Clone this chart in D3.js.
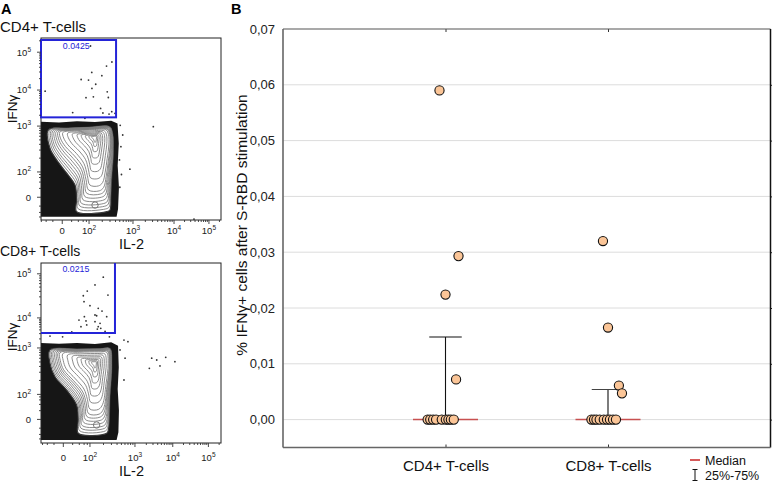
<!DOCTYPE html>
<html><head><meta charset="utf-8">
<script src="https://cdn.jsdelivr.net/npm/d3@7"></script>
<style>body{margin:0;background:#fff}text{font-family:"Liberation Sans",Arial,sans-serif}</style>
</head><body>
<svg id="chart" width="772" height="482"></svg>
<script>
// ================= DATA =================
// ---- Panel B ----
const categories = ["CD4+ T-cells", "CD8+ T-cells"];
const cd4Values = [0, 0, 0, 0, 0, 0, 0, 0, 0, 0.0590, 0.0293, 0.0224, 0.0072];
const cd4Jitter = [-0.110, -0.094, -0.076, -0.058, -0.023, 0.002, 0.018, 0.033, 0.051, -0.037, 0.080, 0.000, 0.065];
const cd8Values = [0, 0, 0, 0, 0, 0, 0, 0, 0, 0.0320, 0.0165, 0.0061, 0.0047];
const cd8Jitter = [-0.102, -0.086, -0.071, -0.051, -0.026, -0.006, 0.012, 0.031, 0.049, -0.031, 0.000, 0.067, 0.086];
const medians = [0, 0];
const q25 = [0, 0];
const q75 = [0.0148, 0.0054];
const yTicksB = [0, 0.01, 0.02, 0.03, 0.04, 0.05, 0.06, 0.07];
const yTickLabelsB = ["0,00", "0,01", "0,02", "0,03", "0,04", "0,05", "0,06", "0,07"];
const yTitleB = "% IFNγ+ cells after S-RBD stimulation";
const legendLabels = ["Median", "25%-75%"];

// ---- Panel A (flow plots, channel units 0-1000) ----
const flowTickExp = ["0", "2", "3", "4", "5"];
const cd4XTickCh = [118, 267, 511, 739, 933];
const cd4YTickCh = [125, 264, 516, 714, 922];
const cd8XTickCh = [124, 272, 522, 732, 930];
const cd8YTickCh = [131, 270, 528, 695, 940];
const gateFreqs = ["0.0425", "0.0215"];
const cd4Gate = [0, 417, 564, 989];   // x1, x2, y1, y2
const cd8Gate = [0, 411, 611, 1000];
const cd4GateDots = [[275,956],[394,868],[364,846],[282,811],[223,772],[264,769],[338,793],[304,746],[23,708],[250,672],[291,677],[374,673],[368,704],[283,723],[176,590],[331,613],[344,588],[393,595],[411,586],[244,559],[378,582]];
const cd4OtherDots = [[624,513],[494,279],[454,467],[444,403],[436,330],[850,5],[440,520],[447,250],[438,180]];
const cd8GateDots = [[346,921],[300,878],[257,844],[235,818],[372,822],[239,785],[272,763],[318,748],[339,733],[300,711],[241,702],[365,702],[309,707],[211,683],[250,678],[300,674],[328,665],[222,646],[254,656],[318,646],[332,637],[171,617],[313,633],[356,620]];
const cd8OtherDots = [[615,471],[643,461],[661,428],[693,476],[744,452],[602,415],[461,572],[439,517],[467,471],[461,350],[483,563],[50,594],[120,590],[380,590]];
const cd4Black = [[0,18],[0,540],[100,536],[200,542],[300,538],[390,545],[425,530],[432,420],[426,300],[433,180],[428,60],[420,18]];
const cd8Black = [[0,17],[0,555],[100,552],[200,556],[300,550],[390,560],[428,540],[432,420],[426,300],[433,180],[430,60],[420,17]];
// outermost contour, an intermediate contour and the density peak
const cd4Envelope = [[41,495],[150,505],[270,510],[383,513],[398,476],[402,366],[393,238],[388,128],[383,55],[365,46],[198,46],[198,110],[189,192],[143,257],[87,330],[50,394]];
const cd4Mid = [[110,482],[180,492],[270,497],[365,498],[380,470],[382,410],[372,330],[360,250],[345,190],[320,170],[270,175],[255,230],[235,300],[190,360],[140,410],[115,450]];
const cd8Envelope = [[50,517],[200,522],[330,524],[383,526],[393,443],[383,257],[374,72],[365,54],[207,54],[207,128],[198,211],[143,294],[78,368],[50,443]];
const cd8Mid = [[110,500],[210,508],[320,510],[368,508],[378,440],[365,320],[345,200],[320,170],[270,172],[255,230],[235,290],[185,350],[130,410],[112,460]];
const cd4Peak = [300, 456], cd8Peak = [300, 445];
const cd4Blob = [300, 82], cd8Blob = [309, 100];
const contourLevels = [0.06, 0.12, 0.18, 0.25, 0.32, 0.39, 0.46, 0.53, 0.6, 0.67, 0.74, 0.8, 0.86, 0.91, 0.95];

// ================= DRAW =================
const svg = d3.select("#chart");
const FONT = '"Liberation Sans",Arial,sans-serif';

// Panel labels
svg.append("text").attr("x", 1).attr("y", 13.5).attr("font-size", 14.5).attr("font-weight", "bold").text("A");
svg.append("text").attr("x", 231).attr("y", 13.5).attr("font-size", 14.5).attr("font-weight", "bold").text("B");

// ---------- Panel B ----------
const L = 283, R = 770.5, T = 29, B = 447.5;
const xB = d3.scaleLinear().domain([0, 3]).range([L, R]);
const yB = d3.scaleLinear().domain([-0.005, 0.07]).range([B, T]);
const gB = svg.append("g");

gB.append("g").selectAll("line").data(yTicksB.slice(0, -1)).join("line")
  .attr("x1", L).attr("x2", R).attr("y1", d => yB(d)).attr("y2", d => yB(d))
  .attr("stroke", "#dcdcdc").attr("stroke-width", 1);

const yAxB = gB.append("g").attr("transform", `translate(${L},0)`)
  .call(d3.axisLeft(yB).tickValues(yTicksB).tickSize(0).tickPadding(8).tickFormat((d, i) => yTickLabelsB[i]));
yAxB.select(".domain").remove();
yAxB.selectAll("text").attr("font-size", 13).attr("fill", "#222").style("font-family", FONT);

const yAxR = gB.append("g").attr("transform", `translate(${R},0)`)
  .call(d3.axisRight(yB).tickValues(yTicksB.slice(0, -1)).tickSize(2).tickFormat(""));
yAxR.select(".domain").remove();
yAxR.selectAll("line").attr("stroke", "#222");

const xAxB = gB.append("g").attr("transform", `translate(0,${B})`)
  .call(d3.axisBottom(xB).tickValues([1, 2]).tickSize(-3).tickPadding(12.5).tickFormat(d => categories[d - 1]));
xAxB.select(".domain").remove();
xAxB.selectAll("line").attr("stroke", "#333");
xAxB.selectAll("text").attr("font-size", 15).attr("fill", "#111").style("font-family", FONT);

const xAxT = gB.append("g").attr("transform", `translate(0,${T})`)
  .call(d3.axisTop(xB).tickValues([1, 2]).tickSize(-3).tickFormat(""));
xAxT.select(".domain").remove();
xAxT.selectAll("line").attr("stroke", "#333");

// frame lines
gB.append("line").attr("x1", L).attr("x2", R).attr("y1", T).attr("y2", T).attr("stroke", "#555").attr("stroke-width", 1.2);
gB.append("line").attr("x1", R).attr("x2", R).attr("y1", T).attr("y2", B).attr("stroke", "#111").attr("stroke-width", 1.5);
gB.append("line").attr("x1", L).attr("x2", L).attr("y1", T).attr("y2", B).attr("stroke", "#666").attr("stroke-width", 1.6);
gB.append("line").attr("x1", L).attr("x2", R).attr("y1", B).attr("y2", B).attr("stroke", "#666").attr("stroke-width", 1.6);

// medians
gB.append("g").selectAll("line").data(medians).join("line")
  .attr("x1", (d, i) => xB(i + 1 - 0.2)).attr("x2", (d, i) => xB(i + 1 + 0.2))
  .attr("y1", d => yB(d)).attr("y2", d => yB(d))
  .attr("stroke", "#c85050").attr("stroke-width", 1.5);

// IQR whiskers
const wg = gB.append("g").attr("stroke", "#111").attr("stroke-width", 1.1);
wg.selectAll(".v").data(q75).join("line").attr("class", "v")
  .attr("x1", (d, i) => xB(i + 1)).attr("x2", (d, i) => xB(i + 1))
  .attr("y1", (d, i) => yB(q25[i])).attr("y2", d => yB(d));
wg.selectAll(".c").data(q75).join("line").attr("class", "c")
  .attr("x1", (d, i) => xB(i + 1 - 0.1)).attr("x2", (d, i) => xB(i + 1 + 0.1))
  .attr("y1", d => yB(d)).attr("y2", d => yB(d)).attr("stroke", (d, i) => i ? "#444" : "#111");

// points
const pts = [];
cd4Values.forEach((v, i) => pts.push({ c: 1, v, j: cd4Jitter[i] }));
cd8Values.forEach((v, i) => pts.push({ c: 2, v, j: cd8Jitter[i] }));
gB.append("g").selectAll("circle").data(pts).join("circle")
  .attr("cx", d => xB(d.c + d.j)).attr("cy", d => yB(d.v)).attr("r", 4.6)
  .attr("fill", "#fbc597").attr("stroke", "#111").attr("stroke-width", 1.1);

// y title
svg.append("text").attr("transform", "translate(246.5,225) rotate(-90)")
  .attr("text-anchor", "middle").attr("font-size", 15.5).attr("fill", "#111").text(yTitleB);

// legend
svg.append("line").attr("x1", 690).attr("x2", 700).attr("y1", 460).attr("y2", 460).attr("stroke", "#c00000").attr("stroke-width", 1.3);
svg.append("text").attr("x", 705).attr("y", 465).attr("font-size", 12.5).attr("fill", "#111").text(legendLabels[0]);
const lg = svg.append("g").attr("stroke", "#111").attr("stroke-width", 1);
lg.append("line").attr("x1", 695).attr("x2", 695).attr("y1", 469.5).attr("y2", 480.5);
lg.append("line").attr("x1", 692.5).attr("x2", 697.5).attr("y1", 469.5).attr("y2", 469.5);
lg.append("line").attr("x1", 692.5).attr("x2", 697.5).attr("y1", 480.5).attr("y2", 480.5);
svg.append("text").attr("x", 705).attr("y", 480).attr("font-size", 12.5).attr("fill", "#111").text(legendLabels[1]);

// ---------- Panel A ----------
function drawFlow(frame, cfg) {
  const g = svg.append("g");
  const x = d3.scaleLinear().domain([0, 1000]).range([frame.x, frame.x + frame.w]);
  const y = d3.scaleLinear().domain([0, 1000]).range([frame.y + frame.h, frame.y]);
  const poly = d3.line().x(d => x(d[0])).y(d => y(d[1])).curve(d3.curveLinearClosed);
  const smooth = d3.line().x(d => x(d[0])).y(d => y(d[1])).curve(d3.curveCatmullRomClosed.alpha(0.5));

  g.append("path").attr("d", poly(cfg.black)).attr("fill", "#161616");
  g.append("path").attr("d", smooth(cfg.envelope)).attr("fill", "#fff").attr("stroke", "#3a3a3a").attr("stroke-width", 1.2);
  const lerp = (a, b, f) => [a[0] + (b[0] - a[0]) * f, a[1] + (b[1] - a[1]) * f];
  contourLevels.forEach(t => {
    const ring = cfg.envelope.map((p, i) => t <= 0.5 ? lerp(p, cfg.mid[i], t / 0.5) : lerp(cfg.mid[i], cfg.peak, (t - 0.5) / 0.5));
    g.append("path").attr("d", smooth(ring)).attr("fill", "none").attr("stroke", "#7d7d7d").attr("stroke-width", 0.9);
  });
  g.append("circle").attr("cx", x(cfg.blob[0])).attr("cy", y(cfg.blob[1])).attr("r", 3.2).attr("fill", "none").attr("stroke", "#7a7a7a");

  // dots
  g.append("g").selectAll("circle").data(cfg.gateDots.concat(cfg.otherDots)).join("circle")
    .attr("cx", d => x(d[0])).attr("cy", d => y(d[1])).attr("r", 0.9).attr("fill", "#333");

  // frame
  g.append("rect").attr("x", frame.x).attr("y", frame.y).attr("width", frame.w).attr("height", frame.h)
    .attr("fill", "none").attr("stroke", "#222").attr("stroke-width", 1);

  // gate
  const [gx1, gx2, gy1, gy2] = cfg.gate;
  if (cfg.fullGate) {
    g.append("rect").attr("x", x(gx1)).attr("y", y(gy2)).attr("width", x(gx2) - x(gx1)).attr("height", y(gy1) - y(gy2))
      .attr("fill", "none").attr("stroke", "#2424d8").attr("stroke-width", 2);
  } else {
    g.append("path").attr("d", `M${x(gx1)},${y(gy1)}L${x(gx2)},${y(gy1)}L${x(gx2)},${y(gy2)}`)
      .attr("fill", "none").attr("stroke", "#2424d8").attr("stroke-width", 2);
  }
  g.append("text").attr("x", x(cfg.freqPos[0])).attr("y", y(cfg.freqPos[1])).attr("dy", "0.35em")
    .attr("text-anchor", "middle").attr("font-size", 8.8).attr("fill", "#2424d8").text(cfg.freq);

  // ticks (major + minor)
  const minors = ticks => {
    const out = [];
    for (let i = 1; i < ticks.length - 1; i++) {
      const a = ticks[i], b = ticks[i + 1];
      for (let k = 2; k <= 9; k++) out.push(a + (b - a) * Math.log10(k));
    }
    const a = ticks[ticks.length - 1], s = a - ticks[ticks.length - 2];
    for (let k = 2; k <= 9; k++) { const v = a + s * Math.log10(k); if (v < 1000) out.push(v); }
    const z = ticks[0], w = ticks[1] - ticks[0];
    [0.35, 0.6, 0.78, 0.9].forEach(f => out.push(z + w * f));
    [-0.35, -0.6, -0.78].forEach(f => { const v = z + w * f; if (v > 0) out.push(v); });
    return out;
  };
  const tk = g.append("g").attr("stroke", "#333").attr("stroke-width", 0.9);
  cfg.xTicks.forEach(c => tk.append("line").attr("x1", x(c)).attr("x2", x(c)).attr("y1", frame.y + frame.h).attr("y2", frame.y + frame.h + 4));
  minors(cfg.xTicks).forEach(c => tk.append("line").attr("x1", x(c)).attr("x2", x(c)).attr("y1", frame.y + frame.h).attr("y2", frame.y + frame.h + 2));
  cfg.yTicks.forEach(c => tk.append("line").attr("y1", y(c)).attr("y2", y(c)).attr("x1", frame.x).attr("x2", frame.x - 4));
  minors(cfg.yTicks).forEach(c => tk.append("line").attr("y1", y(c)).attr("y2", y(c)).attr("x1", frame.x).attr("x2", frame.x - 2));

  const lab = (sel, e) => {
    if (e === "0") { sel.text("0"); return; }
    sel.append("tspan").text("10");
    sel.append("tspan").attr("font-size", 6.5).attr("dy", -4).text(e);
  };
  cfg.xTicks.forEach((c, i) => {
    const t = g.append("text").attr("x", x(c)).attr("y", cfg.xLabelY).attr("text-anchor", "middle").attr("font-size", 9.5).attr("fill", "#222");
    lab(t, flowTickExp[i]);
  });
  cfg.yTicks.forEach((c, i) => {
    const t = g.append("text").attr("x", 31).attr("y", y(c) + 3.4).attr("text-anchor", "end").attr("font-size", 9.5).attr("fill", "#222");
    lab(t, flowTickExp[i]);
  });

  // axis titles
  g.append("text").attr("x", 131.5).attr("y", cfg.il2Y).attr("text-anchor", "middle").attr("font-size", 14.5).attr("fill", "#111").text("IL-2");
  g.append("text").attr("transform", `translate(16.5,${cfg.ifnY}) rotate(-90)`).attr("text-anchor", "middle").attr("font-size", 13.5).attr("fill", "#111").text("IFNγ");
  g.append("text").attr("x", 0).attr("y", cfg.titleY).attr("font-size", cfg.titleSize).attr("fill", "#111").text(cfg.title);
}

drawFlow({ x: 41, y: 38, w: 180, h: 182 }, {
  black: cd4Black, envelope: cd4Envelope, mid: cd4Mid, peak: cd4Peak, blob: cd4Blob,
  gateDots: cd4GateDots, otherDots: cd4OtherDots, gate: cd4Gate, fullGate: true,
  freq: gateFreqs[0], freqPos: [196, 955],
  xTicks: cd4XTickCh, yTicks: cd4YTickCh, xLabelY: 233.5, il2Y: 249, ifnY: 109,
  title: categories[0], titleY: 32, titleSize: 15
});
drawFlow({ x: 41, y: 263, w: 180, h: 180 }, {
  black: cd8Black, envelope: cd8Envelope, mid: cd8Mid, peak: cd8Peak, blob: cd8Blob,
  gateDots: cd8GateDots, otherDots: cd8OtherDots, gate: cd8Gate, fullGate: false,
  freq: gateFreqs[1], freqPos: [194, 966],
  xTicks: cd8XTickCh, yTicks: cd8YTickCh, xLabelY: 460.5, il2Y: 476, ifnY: 337,
  title: categories[1], titleY: 256, titleSize: 14
});
</script>
</body></html>
